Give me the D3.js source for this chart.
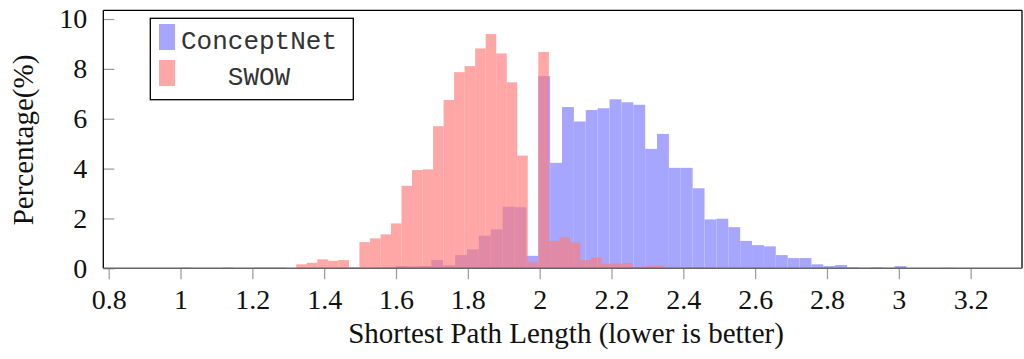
<!DOCTYPE html>
<html>
<head>
<meta charset="utf-8">
<script src="https://cdn.jsdelivr.net/npm/d3@7"></script>
<style>
  html, body { margin: 0; padding: 0; background: #fff; }
  svg { display: block; }
</style>
</head>
<body>
<svg id="chart" width="1024" height="359"></svg>
<script>
// Histogram of shortest path lengths, percentage of pairs per bin.

// SWOW: 50 bins starting at 1.0
const swowStart = 1.0;
const swowBinWidth = 0.0293;
const swowPct = [
  0.03, 0.01, 0.01, 0.00, 0.03, 0.01, 0.01, 0.03, 0.03, 0.03,
  0.01, 0.16, 0.22, 0.36, 0.30, 0.33, 0.04, 1.05, 1.20, 1.36,
  1.80, 3.31, 3.94, 3.97, 5.70, 6.75, 7.87, 8.11, 8.82, 9.40,
  8.62, 7.46, 4.52, 0.24, 8.68, 1.10, 1.24, 1.04, 0.33, 0.44,
  0.18, 0.19, 0.21, 0.05, 0.09, 0.11, 0.02, 0.01, 0.03, 0.03
];

// ConceptNet: 50 bins starting at 1.5
const conceptNetStart = 1.5;
const conceptNetBinWidth = 0.03307;
const conceptNetPct = [
  0.01, 0.02, 0.03, 0.09, 0.08, 0.09, 0.33, 0.12, 0.53, 0.76,
  1.31, 1.56, 2.47, 2.45, 0.50, 7.71, 4.23, 6.47, 5.89, 6.35,
  6.42, 6.78, 6.66, 6.56, 4.79, 5.39, 4.03, 4.03, 3.21, 1.96,
  1.99, 1.65, 1.10, 0.93, 0.88, 0.53, 0.41, 0.41, 0.16, 0.09,
  0.13, 0.04, 0.02, 0.04, 0.02, 0.09, 0.01, 0.01, 0.01, 0.02
];

const xTickValues = [0.8, 1.0, 1.2, 1.4, 1.6, 1.8, 2.0, 2.2, 2.4, 2.6, 2.8, 3.0, 3.2];
const xTickLabels = ["0.8", "1", "1.2", "1.4", "1.6", "1.8", "2", "2.2", "2.4", "2.6", "2.8", "3", "3.2"];
const yTickValues = [0, 2, 4, 6, 8, 10];
const seriesNames = ["ConceptNet", "SWOW"];

const svg = d3.select("#chart");
const plot = { left: 103.3, right: 1022, top: 10.3, bottom: 268.3 };

const x = d3.scaleLinear().domain([0.785, 3.343]).range([plot.left, plot.right]);
const y = d3.scaleLinear().domain([0, 10.35]).range([plot.bottom, plot.top]);

const serif = "'Liberation Serif', 'Times New Roman', serif";
const mono = "'Liberation Mono', 'Courier New', monospace";

const blueFill = "rgb(166,166,255)";
const redFill = "rgb(255,123,123)";
const redOpacity = 0.674;

function bins(start, width, values) {
  return values.map((v, i) => ({ x0: start + i * width, x1: start + (i + 1) * width, v }));
}

const bars = svg.append("g");

bars.selectAll("rect.cn")
  .data(bins(conceptNetStart, conceptNetBinWidth, conceptNetPct))
  .join("rect")
  .attr("class", "cn")
  .attr("x", d => x(d.x0))
  .attr("width", d => x(d.x1) - x(d.x0))
  .attr("y", d => y(d.v))
  .attr("height", d => y(0) - y(d.v))
  .attr("fill", blueFill);

bars.selectAll("rect.sw")
  .data(bins(swowStart, swowBinWidth, swowPct))
  .join("rect")
  .attr("class", "sw")
  .attr("x", d => x(d.x0))
  .attr("width", d => x(d.x1) - x(d.x0))
  .attr("y", d => y(d.v))
  .attr("height", d => y(0) - y(d.v))
  .attr("fill", redFill)
  .attr("fill-opacity", redOpacity);

// x axis: ticks outside, grey
const xAxis = d3.axisBottom(x)
  .tickValues(xTickValues)
  .tickFormat((d, i) => xTickLabels[i])
  .tickSizeInner(11)
  .tickSizeOuter(0)
  .tickPadding(10);

const gx = svg.append("g")
  .attr("transform", `translate(0,${plot.bottom})`)
  .call(xAxis);
gx.select(".domain").remove();
gx.selectAll(".tick line").attr("stroke", "#999").attr("stroke-width", 1.2);
gx.selectAll(".tick text")
  .attr("fill", "#111")
  .style("font-family", serif)
  .style("font-size", "28px");

// y axis: ticks inside, grey
const yAxis = d3.axisLeft(y)
  .tickValues(yTickValues)
  .tickSizeInner(-11)
  .tickSizeOuter(0)
  .tickPadding(16);

const gy = svg.append("g")
  .attr("transform", `translate(${plot.left},0)`)
  .call(yAxis);
gy.select(".domain").remove();
gy.selectAll(".tick line").attr("stroke", "#999").attr("stroke-width", 1.2);
gy.selectAll(".tick text")
  .attr("fill", "#111")
  .style("font-family", serif)
  .style("font-size", "28px");

// frame
svg.append("line")
  .attr("x1", plot.left).attr("x2", plot.right)
  .attr("y1", plot.top).attr("y2", plot.top)
  .attr("stroke", "#000").attr("stroke-width", 1.3);
svg.append("line")
  .attr("x1", plot.left).attr("x2", plot.left)
  .attr("y1", plot.top).attr("y2", plot.bottom)
  .attr("stroke", "#000").attr("stroke-width", 1.3);
svg.append("line")
  .attr("x1", plot.right).attr("x2", plot.right)
  .attr("y1", plot.top).attr("y2", plot.bottom)
  .attr("stroke", "#000").attr("stroke-width", 1.3);
svg.append("line")
  .attr("x1", plot.left).attr("x2", plot.right)
  .attr("y1", plot.bottom).attr("y2", plot.bottom)
  .attr("stroke", "#666").attr("stroke-width", 1.6);

// axis titles
svg.append("text")
  .attr("x", 566).attr("y", 343)
  .attr("text-anchor", "middle")
  .attr("fill", "#111")
  .style("font-family", serif)
  .style("font-size", "29px")
  .text("Shortest Path Length (lower is better)");

svg.append("text")
  .attr("transform", "translate(33,140) rotate(-90)")
  .attr("text-anchor", "middle")
  .attr("fill", "#111")
  .style("font-family", serif)
  .style("font-size", "29px")
  .text("Percentage(%)");

// legend
const legend = svg.append("g");
legend.append("rect")
  .attr("x", 150.3).attr("y", 18.3)
  .attr("width", 203).attr("height", 81.4)
  .attr("fill", "#fff")
  .attr("stroke", "#000").attr("stroke-width", 1.3);

const legendItems = [
  { name: seriesNames[0], fill: blueFill, opacity: 1, cy: 37 },
  { name: seriesNames[1], fill: redFill, opacity: redOpacity, cy: 73 }
];
legendItems.forEach(it => {
  legend.append("rect")
    .attr("x", 159).attr("y", it.cy - 13)
    .attr("width", 16).attr("height", 26)
    .attr("fill", it.fill)
    .attr("fill-opacity", it.opacity);
  legend.append("text")
    .attr("x", 259).attr("y", it.cy + 12)
    .attr("text-anchor", "middle")
    .attr("fill", "#333")
    .style("font-family", mono)
    .style("font-size", "26px")
    .text(it.name);
});
</script>
</body>
</html>
